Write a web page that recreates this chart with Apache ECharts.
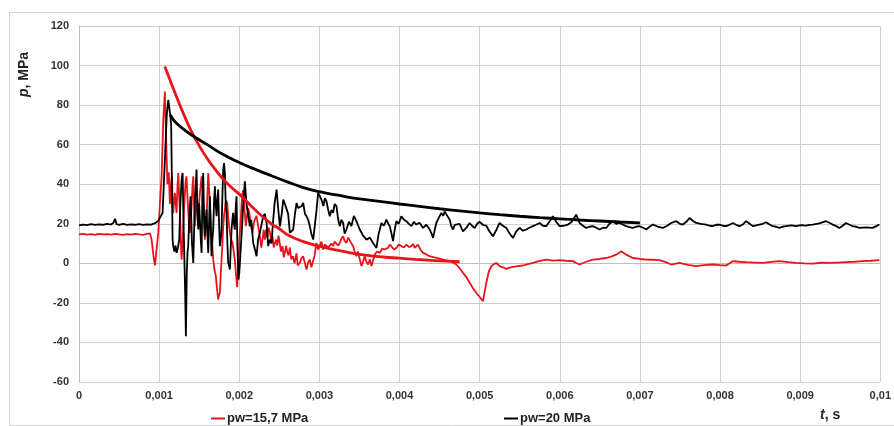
<!DOCTYPE html>
<html>
<head>
<meta charset="utf-8">
<script src="https://cdn.jsdelivr.net/npm/echarts@6/dist/echarts.min.js"></script>
<style>
html,body{margin:0;padding:0;background:#fff;}
#chart{width:894px;height:426px;}
</style>
</head>
<body>
<div id="chart"></div>
<script>
// ---- data (time in ms, pressure in MPa) ----
const seriesNames = ['pw=15,7 MPa', 'pw=20 MPa'];
const xTicks = ['0','0,001','0,002','0,003','0,004','0,005','0,006','0,007','0,008','0,009','0,01'];
const yTicks = [-60,-40,-20,0,20,40,60,80,100,120];

const tRed = [
0,0.05,0.1,0.15,0.2,0.25,0.3,0.35,0.4,0.45,
0.5,0.55,0.6,0.65,0.7,0.75,0.8,0.85,0.885,0.906,
0.935,0.948,0.968,0.989,1.010,1.031,1.052,1.072,1.082,1.093,
1.103,1.114,1.12,1.126,1.135,1.143,1.152,1.16,1.168,1.176,
1.187,1.197,1.207,1.218,1.228,1.239,1.249,1.259,1.27,1.28,
1.29,1.301,1.311,1.322,1.332,1.342,1.352,1.363,1.373,1.384,
1.394,1.405,1.415,1.426,1.436,1.446,1.457,1.467,1.478,1.488,
1.498,1.509,1.52,1.53,1.54,1.55,1.56,1.571,1.582,1.592,
1.603,1.613,1.623,1.633,1.644,1.654,1.665,1.675,1.69,1.708,
1.72,1.737,1.748,1.758,1.768,1.779,1.79,1.8,1.81,1.82,
1.835,1.85,1.865,1.883,1.9,1.916,1.93,1.945,1.96,1.974,
1.983,1.991,2.0,2.007,2.018,2.028,2.038,2.049,2.06,2.07,
2.082,2.1,2.111,2.132,2.15,2.165,2.18,2.195,2.215,2.236,
2.257,2.275,2.29,2.305,2.319,2.335,2.348,2.365,2.382,2.4,
2.415,2.43,2.444,2.46,2.473,2.49,2.506,2.52,2.54,2.555,
2.569,2.585,2.598,2.615,2.631,2.65,2.672,2.69,2.714,2.73,
2.756,2.775,2.797,2.82,2.839,2.86,2.880,2.9,2.922,2.94,
2.963,2.985,3.005,3.025,3.047,3.068,3.088,3.11,3.130,3.15,
3.171,3.19,3.213,3.235,3.254,3.275,3.296,3.315,3.337,3.36,
3.379,3.4,3.421,3.44,3.462,3.48,3.504,3.525,3.545,3.566,
3.585,3.608,3.63,3.650,3.67,3.691,3.72,3.754,3.785,3.816,
3.857,3.88,3.899,3.93,3.961,3.99,4.023,4.055,4.086,4.12,
4.148,4.17,4.190,4.21,4.231,4.26,4.294,4.335,4.377,4.42,
4.460,4.5,4.543,4.585,4.626,4.67,4.709,4.75,4.792,4.835,
4.875,4.915,4.958,5.0,5.042,5.083,5.115,5.145,5.175,5.208,
5.249,5.29,5.333,5.375,5.416,5.48,5.540,5.6,5.665,5.75,
5.831,5.92,5.998,6.08,6.164,6.2,6.247,6.33,6.413,6.5,
6.580,6.64,6.704,6.767,6.829,6.912,7.0,7.079,7.16,7.245,
7.32,7.391,7.494,7.6,7.702,7.8,7.910,8.0,8.076,8.159,
8.24,8.325,8.43,8.533,8.64,8.741,8.85,8.948,9.05,9.156,
9.26,9.364,9.47,9.572,9.68,9.780,9.88,9.988];
const pRed = [
14.6,14.9,14.5,14.8,14.4,14.9,14.6,14.8,14.5,14.9,
14.6,14.4,14.8,14.5,14.9,14.6,14.4,14.9,15.2,12.0,
1.9,-1.0,-1.4,15.4,30.5,44.0,72.6,86.9,70,55,
40,39,46,45.7,30,35.6,42,44,30,25.5,
32,35.6,30,25.5,38,45.7,35,27.2,12,1.9,
8,18.8,28,35.6,42,44,35,27.2,20,15.4,
22,28.9,38,44,30,18.8,25,32.2,28,22.1,
30,35.6,40,44,38,32.2,20,12,16,22.1,
35,45.7,38,30.5,22,15.4,8,1.9,-3,-6.5,
-12,-18.3,-16,-14.9,-6,1.9,10,18.8,24,27.2,
32,30.5,22,15.4,12,10.3,6,1.9,-6,-12,
-5,1.9,10,15.4,22,28.9,35,37,30,25,
18.8,25,28,23.8,18,15.4,20,22.1,24,18.8,
13.7,8,12,17,12,17,13,18,16,10,
13.7,8,10.3,12,9,14,10,6,8.7,3,
5.3,9,6,4,8,2,3.6,0,5,-1,
0.2,2.5,3.6,0,-3.1,0.5,1.9,-2,-1.4,4,
10.3,7,8.7,11,7.0,9.5,10.3,8,7.0,10,
8.7,11,12.0,9,10.3,12.5,13.7,11.5,10.3,13,
12.0,10,8.7,6,3.6,6,5.3,-1.4,1,3.6,
1,-0.6,2,-1.4,1.5,4.4,6,5.3,7.5,7.0,
7.8,9.5,8.7,7,7.8,9.5,8.7,8,9.5,8.2,
8.7,9.8,7.8,8.5,9.5,7,5.3,4.5,3.6,3.2,
2.8,2.4,1.9,1.5,1.1,0.3,-0.6,-2.5,-4.8,-7,
-9.8,-12.5,-14.9,-17,-19.1,-9.9,-4,-1.5,-0.5,0.2,
-1.4,-2,-2.8,-2.2,-1.8,-1.4,-1.1,-0.4,0.2,1.2,
1.9,1.4,1.6,1.3,1.1,0.3,-0.6,0.8,1.9,2.2,
2.7,3.4,4.4,6.1,4.4,2.7,2.2,1.9,1.8,1.6,
0.6,-0.6,0.2,-0.8,-1.4,-0.9,-0.6,-0.9,-1.1,1.1,
0.8,0.6,0.4,0.2,0.7,1.1,0.6,0.2,0.0,-0.1,
0.3,0.2,0.4,0.6,0.8,1.1,1.3,1.6];

const tBlack = [
0,0.05,0.1,0.15,0.2,0.25,0.3,0.35,0.4,0.43,
0.45,0.47,0.5,0.55,0.6,0.65,0.7,0.75,0.8,0.85,
0.9,0.95,0.99,1.010,1.043,1.072,1.095,1.114,1.135,1.150,
1.160,1.168,1.176,1.19,1.205,1.218,1.235,1.251,1.265,1.28,
1.293,1.305,1.315,1.325,1.334,1.345,1.355,1.363,1.378,1.393,
1.41,1.426,1.445,1.467,1.478,1.488,1.499,1.509,1.52,1.53,
1.54,1.55,1.56,1.571,1.582,1.592,1.603,1.613,1.623,1.633,
1.644,1.654,1.665,1.675,1.686,1.696,1.706,1.717,1.727,1.737,
1.748,1.758,1.768,1.779,1.79,1.8,1.81,1.821,1.831,1.841,
1.852,1.862,1.872,1.883,1.894,1.904,1.914,1.924,1.935,1.945,
1.955,1.966,1.976,1.99,2.0,2.015,2.03,2.05,2.07,2.09,
2.11,2.132,2.15,2.174,2.19,2.216,2.235,2.257,2.28,2.299,
2.32,2.341,2.361,2.38,2.403,2.42,2.44,2.466,2.485,2.507,
2.53,2.549,2.57,2.59,2.61,2.632,2.65,2.673,2.695,2.715,
2.735,2.757,2.78,2.798,2.82,2.84,2.86,2.881,2.90,2.923,
2.945,2.965,2.984,3.005,3.026,3.05,3.068,3.088,3.11,3.130,
3.15,3.171,3.19,3.213,3.235,3.254,3.275,3.296,3.315,3.337,
3.37,3.400,3.43,3.462,3.485,3.504,3.545,3.587,3.63,3.670,
3.69,3.712,3.74,3.774,3.805,3.836,3.86,3.878,3.9,3.919,
3.94,3.961,3.99,4.023,4.055,4.086,4.115,4.148,4.18,4.210,
4.25,4.294,4.335,4.377,4.4,4.419,4.44,4.460,4.49,4.522,
4.545,4.564,4.595,4.626,4.645,4.668,4.69,4.709,4.75,4.792,
4.835,4.875,4.905,4.938,4.97,5.000,5.04,5.083,5.125,5.166,
5.21,5.249,5.29,5.333,5.375,5.416,5.455,5.499,5.54,5.582,
5.62,5.665,5.705,5.748,5.79,5.831,5.87,5.914,5.955,5.998,
6.05,6.102,6.15,6.205,6.247,6.29,6.330,6.37,6.413,6.455,
6.496,6.54,6.580,6.62,6.663,6.705,6.746,6.79,6.829,6.87,
6.912,6.95,6.995,7.04,7.079,7.12,7.162,7.22,7.287,7.34,
7.391,7.453,7.5,7.536,7.58,7.619,7.66,7.702,7.76,7.827,
7.87,7.910,7.95,7.993,8.035,8.076,8.12,8.159,8.2,8.242,
8.28,8.325,8.37,8.408,8.45,8.491,8.533,8.574,8.615,8.657,
8.7,8.741,8.78,8.824,8.89,8.948,9.01,9.073,9.115,9.156,
9.24,9.323,9.364,9.406,9.45,9.489,9.53,9.572,9.615,9.655,
9.7,9.738,9.82,9.905,9.95,9.988];
const pBlack = [
19.2,19.6,19.3,19.8,19.4,19.7,19.5,19.9,19.6,20.5,
22.5,19.8,19.5,19.9,19.4,19.7,19.5,19.8,19.4,19.7,
19.6,20.3,21.5,21.0,25.5,52.4,75.0,82.7,76,70,
40,12,8.7,6,9,5.3,8,12,30,42,
45.7,20,2,-15,-36.8,-5,6,8.7,25,33.9,
10,0.2,30,47.4,25,17.1,30.5,30.5,12,5.3,
35,45.7,25,13.7,22,27.2,15,5.3,20,33.9,
18,3.6,12,17.1,32,39.0,30,23.8,32,37.3,
20,8.7,12,17.1,35,47.4,50.7,45,30,25.5,
10,0.2,-1,-3.1,8,17.1,22,25.5,20,17.1,
28,33.9,10,-8.2,-5,5,15,30,41.5,30,
25,18.7,22,10.3,8,3.6,12,15.4,20,23.8,
25,20.4,8.7,12,10.3,20,30,37.3,28,18.7,
25,32.2,30,30.5,25,15.4,16,17,25,30.5,
28,27,29,30.5,25,23.8,22,18.7,15,12,
20,27,35.6,36,32.2,29,33,31.4,27,23.8,
27,25.5,30,28.9,22,18.8,22,20.4,15,17.1,
21,18.8,24,21.3,19,17.1,14,12.0,13,10.3,
9,7.8,15,20.4,19,22.1,20,18.8,15,11.2,
17,21.3,20,23.8,22,21.3,20,18.8,21,19.6,
20.5,17.9,19.5,17.1,15,12.9,17,20.4,23,25.5,
24,26.3,24,22.1,19,17.1,19.5,18.8,20,16.2,
18,20.4,19,17.9,20,21,19.5,19.0,16,13.7,
17,20.4,19,17.9,15,12.9,16,17.9,16.5,17.1,
18,18.8,19.5,20.4,19,18.8,21,23.8,21,18.8,
19,19.6,21,24.6,20.4,19,17.9,18.5,18.8,18,
17.1,18,17.9,20,21.3,20,20.4,19.5,18.8,18.3,
17.9,18.5,18.8,18,17.1,18.5,19.6,18.6,17.9,19,
20.4,21.3,20,19.6,21,22.9,21.5,20.4,20,19.6,
19,18.8,19.5,19.6,19,18.8,19.5,20.4,19.5,18.8,
19.5,21.3,20,18.8,19.2,19.6,20,20.8,19.8,18.8,
18.5,17.9,18.5,18.8,19.2,18.8,19.3,19.1,19.4,19.6,
20.2,21.3,20.5,19.6,18.8,17.9,19,20.4,19.5,18.8,
18.5,17.9,18.2,17.9,18.8,19.6];

const tRedFit = [1.07,1.1,1.2,1.3,1.4,1.5,1.6,1.7,1.8,1.9,2.0,2.2,2.4,2.5,2.6,2.8,3.0,3.2,3.4,3.6,3.8,4.0,4.2,4.4,4.6,4.75];
const pRedFit = [99.5,96.5,86,76,67,59.5,53,47.5,42.5,38.5,35,27,20,17.5,14.5,11,8.7,6.8,5.2,4.0,3.2,2.6,2.0,1.5,1.1,0.8];

const tBlackFit = [1.14,1.2,1.3,1.4,1.5,1.6,1.8,2.0,2.2,2.4,2.6,2.8,3.0,3.25,3.5,3.75,4.0,4.25,4.5,4.75,5.0,5.25,5.5,5.75,6.0,6.25,6.5,6.75,7.0];
const pBlackFit = [75,71.5,68,65,62.5,60,55,51,47.5,44.3,41.2,38.3,36.2,34.3,32.6,31.3,30,28.8,27.6,26.5,25.5,24.6,23.8,23.1,22.5,21.9,21.4,20.9,20.5];

function pairs(t, p){ return t.map((v,i)=>[v/1000, p[i]]); }

const chart = echarts.init(document.getElementById('chart'));
const FONT = 'Liberation Sans, Arial, sans-serif';
const RED = '#e8141c';

chart.setOption({
  animation:false,
  backgroundColor:'#fff',
  grid:{left:79,right:13,top:26,bottom:44,containLabel:false},
  xAxis:{
    type:'value',min:0,max:0.01,interval:0.001,
    axisLine:{show:true,lineStyle:{color:'#bdbdbd',width:1}},
    axisTick:{show:false},
    splitLine:{show:true,lineStyle:{color:'#cfcfcf',width:1}},
    axisLabel:{
      color:'#333',fontFamily:FONT,fontWeight:'bold',fontSize:11,margin:8,
      formatter:function(v){ return xTicks[Math.round(v*1000)]; }
    }
  },
  yAxis:{
    type:'value',min:-60,max:120,interval:20,
    axisLine:{show:true,lineStyle:{color:'#bdbdbd',width:1}},
    axisTick:{show:false},
    splitLine:{show:true,lineStyle:{color:'#cfcfcf',width:1}},
    axisLabel:{color:'#333',fontFamily:FONT,fontWeight:'bold',fontSize:11,margin:10,
      formatter:function(v){ return String(yTicks[Math.round((v+60)/20)]); }}
  },
  legend:[
    {data:[seriesNames[0]],left:206,top:407,icon:'rect',itemWidth:14,itemHeight:2,itemGap:0,
     textStyle:{color:'#222',fontFamily:FONT,fontWeight:'bold',fontSize:13,padding:[0,0,0,-3]}},
    {data:[seriesNames[1]],left:499,top:407,icon:'rect',itemWidth:14,itemHeight:2,itemGap:0,
     textStyle:{color:'#222',fontFamily:FONT,fontWeight:'bold',fontSize:13,padding:[0,0,0,-3]}}
  ],
  graphic:[
    {type:'rect',left:7,top:10,shape:{width:886,height:413},silent:true,z:-10,
     style:{fill:'none',stroke:'#d4d4d4',lineWidth:1}},
    {type:'text',left:820,top:408,style:{
      text:'{i|t}{n|, s}',
      rich:{i:{fontFamily:FONT,fontWeight:'bold',fontStyle:'italic',fontSize:14,fill:'#222'},
            n:{fontFamily:FONT,fontWeight:'bold',fontSize:14,fill:'#222'}}}},
    {type:'text',x:17,y:97,rotation:Math.PI/2,style:{
      text:'{i|p}{n|, MPa}',
      rich:{i:{fontFamily:FONT,fontWeight:'bold',fontStyle:'italic',fontSize:14,fill:'#222'},
            n:{fontFamily:FONT,fontWeight:'bold',fontSize:14,fill:'#222'}}}}
  ],
  series:[
    {name:seriesNames[0],type:'line',data:pairs(tRed,pRed),showSymbol:false,
     lineStyle:{color:RED,width:1.8},itemStyle:{color:RED},z:2},
    {name:seriesNames[1],type:'line',data:pairs(tBlack,pBlack),showSymbol:false,
     lineStyle:{color:'#000',width:1.8},itemStyle:{color:'#000'},z:3},
    {name:'fitRed',type:'line',data:pairs(tRedFit,pRedFit),showSymbol:false,smooth:true,
     lineStyle:{color:RED,width:2.8},z:4},
    {name:'fitBlack',type:'line',data:pairs(tBlackFit,pBlackFit),showSymbol:false,smooth:true,
     lineStyle:{color:'#000',width:2.8},z:4}
  ]
});
</script>
</body>
</html>
